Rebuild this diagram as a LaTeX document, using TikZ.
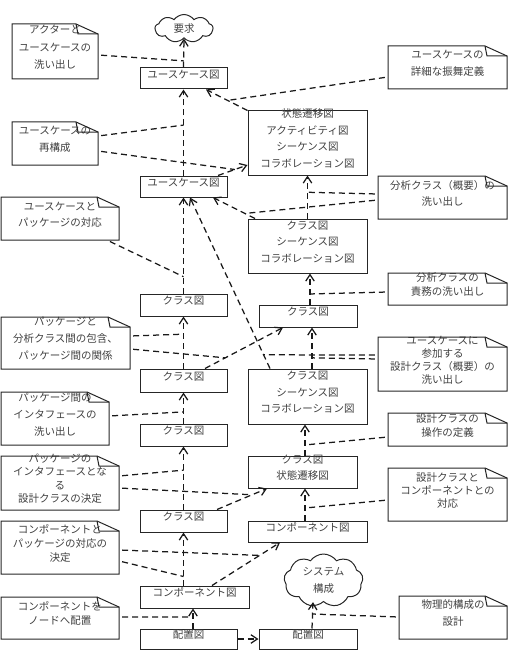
\documentclass[tikz,border=0pt]{standalone}
\usepackage{fontspec}
\setmainfont{Noto Sans CJK JP}
\usetikzlibrary{arrows.meta,shapes.symbols,fit,calc}
\newcommand{\jfs}[1]{\fontsize{10.5}{#1}\selectfont}
\newcommand\mknote[7]{%
  \node[ntext, font=\jfs{#7}, fit={(#2,#3) (#4,#5)}] (#1) {#6};
  \draw[noteline] (#2,#3) -- ({#4-22},#3) -- (#4,{#3+10}) -- (#4,#5) -- (#2,#5) -- cycle;
  \draw[noteline] ({#4-22},#3) -- ({#4-20},{#3+10}) -- (#4,{#3+10});
}
\newcommand\dep[3]{\draw[dep] (#2) coordinate (#1s) -- (#3) coordinate (#1t);}
\begin{document}
\begin{tikzpicture}[x=1pt,y=-1pt,
  box/.style={draw=black!85, line width=1pt, inner sep=0pt, align=center, text=black!75},
  ntext/.style={inner sep=0pt, align=center, text=black!75},
  noteline/.style={draw=black!85, line width=1pt, line join=miter},
  dep/.style={draw=black!90, line width=1.25pt, dash pattern=on 6pt off 4pt, -{Straight Barb[length=6.5pt,width=8.5pt]}},
  att/.style={draw=black!90, line width=1.25pt, dash pattern=on 6pt off 4pt, shorten <=3pt},
  cloudy/.style={cloud, cloud puffs=9, cloud puff arc=110, cloud ignores aspect, draw=black!85, line width=1pt, inner sep=0pt, align=center, text=black!75, font=\jfs{16.5}}
]
\useasboundingbox (0,0) rectangle (515,650);

% boxes
\node[box, font=\jfs{16.5}, fit={(140,68) (227,89)}] (uc1) {ユースケース図};
\node[box, font=\jfs{16.5}, fit={(140,176) (227,197)}] (uc2) {ユースケース図};
\node[box, font=\jfs{16.5}, fit={(248,111) (367,175)}] (sb) {状態遷移図\\アクティビティ図\\シーケンス図\\コラボレーション図};
\node[box, font=\jfs{16.5}, fit={(248,219) (367,273)}] (cb1) {クラス図\\シーケンス図\\コラボレーション図};
\node[box, font=\jfs{16.5}, fit={(259,305) (357,327)}] (clr1) {クラス図};
\node[box, font=\jfs{16.5}, fit={(140,294) (227,316)}] (cll1) {クラス図};
\node[box, font=\jfs{16.5}, fit={(140,369) (227,392)}] (cll2) {クラス図};
\node[box, font=\jfs{16.5}, fit={(248,369) (367,424)}] (cb2) {クラス図\\シーケンス図\\コラボレーション図};
\node[box, font=\jfs{16.5}, fit={(140,424) (227,446)}] (cll3) {クラス図};
\node[box, font=\jfs{16}, fit={(248,456) (357,488)}] (cb3) {クラス図\\状態遷移図};
\node[box, font=\jfs{16.5}, fit={(140,510) (227,532)}] (cll4) {クラス図};
\node[box, font=\jfs{16.5}, fit={(248,521) (367,542)}] (compr) {コンポーネント図};
\node[box, font=\jfs{16.5}, fit={(140,586) (249,608)}] (compl) {コンポーネント図};
\node[box, font=\jfs{16.5}, fit={(140,629) (237,649)}] (depl) {配置図};
\node[box, font=\jfs{16.5}, fit={(259,629) (357,649)}] (depr) {配置図};

% clouds
\node[cloudy, minimum width=58, minimum height=28] (req) at (184,28.5) {要求};
\node[cloudy, minimum width=79, minimum height=53] (sys) at (323.5,580.5) {システム\\構成};

% notes
\mknote{n1}{12}{24}{98}{79}{アクターと\\ユースケースの\\洗い出し}{17.5}
\mknote{n2}{388}{46}{507}{89}{ユースケースの\\詳細な振舞定義}{17}
\mknote{n3}{12}{122}{98}{165}{ユースケースの\\再構成}{17}
\mknote{n4}{378}{176}{507}{219}{分析クラス（概要）の\\洗い出し}{16}
\mknote{n5}{1}{197}{119}{240}{ユースケースと\\パッケージの対応}{16}
\mknote{n6}{388}{273}{507}{305}{分析クラスの\\責務の洗い出し}{14}
\mknote{n7}{1}{317}{130}{369}{パッケージと\\分析クラス間の包含、\\パッケージ間の関係}{17}
\mknote{n8}{378}{337}{507}{391}{ユースケースに\\参加する\\設計クラス（概要）の\\洗い出し}{13}
\mknote{n9}{1}{392}{109}{445}{パッケージ間の\\インタフェースの\\洗い出し}{17}
\mknote{n10}{388}{413}{507}{446}{設計クラスの\\操作の定義}{14}
\mknote{n11}{1}{456}{119}{510}{パッケージの\\インタフェースとな\\る\\設計クラスの決定}{13.5}
\mknote{n12}{388}{468}{507}{521}{設計クラスと\\コンポーネントとの\\対応}{13}
\mknote{n13}{1}{521}{119}{574}{コンポーネントと\\パッケージの対応の\\決定}{14}
\mknote{n14}{1}{597}{119}{639}{コンポーネントを\\ノードへ配置}{14}
\mknote{n15}{399}{596}{507}{639}{物理的構成の\\設計}{17}

% dependency arrows
\dep{a1}{uc1.north}{req.south}
\dep{a2}{uc2.north}{uc1.south}
\dep{a3}{sb.north west}{uc1.south -| 206,0}
\dep{a4}{uc2.north -| 218,0}{sb.west |- 0,165}
\dep{a5}{cb1.north}{sb.south}
\dep{a6}{cb1.north -| 255,0}{uc2.south -| 213,0}
\dep{a7}{cll1.north}{uc2.south}
\dep{a8}{cb2.north -| 270,0}{uc2.south -| 190,0}
\dep{a9}{clr1.north -| 310,0}{cb1.south -| 310,0}
\dep{a10}{cll2.north}{cll1.south}
\dep{a11}{cll2.north -| 205,0}{clr1.south -| 283,0}
\dep{a12}{cb2.north -| 312,0}{clr1.south -| 312,0}
\dep{a13}{cll3.north}{cll2.south}
\dep{a14}{cb3.north -| 305,0}{cb2.south -| 305,0}
\dep{a15}{cll4.north}{cll3.south}
\dep{a16}{cll4.north -| 217,0}{cb3.south -| 267,0}
\dep{a17}{compr.north -| 305,0}{cb3.south -| 305,0}
\dep{a18}{compl.north -| 183.5,0}{cll4.south}
\dep{a19}{compl.north -| 212,0}{compr.south -| 280,0}
\dep{a20}{depl.north -| 193,0}{compl.south -| 193,0}
\dep{a21}{depl.east}{depr.west}
\dep{a22}{depr.north -| 312,0}{sys.south -| 313,0}

% note attachments
\draw[att] (n1.east |- 0,55) -- ($(a1s)!0.23!(a1t)$);
\draw[att] (n2.west |- 0,77) -- ($(a3s)!0.48!(a3t)$);
\draw[att] (n3.east |- 0,136) -- ($(a2s)!0.586!(a2t)$);
\draw[att] (n3.east |- 0,151) -- ($(a4s)!0.57!(a4t)$);
\draw[att] (n4.west |- 0,194) -- ($(a5s)!0.61!(a5t)$);
\draw[att] (n4.west |- 0,200) -- ($(a6s)!0.24!(a6t)$);
\draw[att] ($(n5.south east)+(-12,0)$) -- ($(a7s)!0.175!(a7t)$);
\draw[att] (n6.west |- 0,292) -- ($(a9s)!0.34!(a9t)$);
\draw[att] (n7.east |- 0,336) -- ($(a10s)!0.66!(a10t)$);
\draw[att] (n7.east |- 0,349) -- ($(a11s)!0.26!(a11t)$);
\draw[att] (n8.west |- 0,355) -- ($(a8s)!0.08!(a8t)$);
\draw[att] (n8.west |- 0,359) -- ($(a12s)!0.26!(a12t)$);
\draw[att] (n9.east |- 0,416) -- ($(a13s)!0.375!(a13t)$);
\draw[att] (n10.west |- 0,437) -- ($(a14s)!0.34!(a14t)$);
\draw[att] (n11.east |- 0,476) -- ($(a15s)!0.625!(a15t)$);
\draw[att] (n11.east |- 0,488) -- ($(a16s)!0.7!(a16t)$);
\draw[att] (n12.west |- 0,500) -- ($(a17s)!0.39!(a17t)$);
\draw[att] (n13.east |- 0,550) -- ($(a19s)!0.7!(a19t)$);
\draw[att] (n13.east |- 0,561) -- ($(a18s)!0.17!(a18t)$);
\draw[att] (n14.east |- 0,617) -- ($(a20s)!0.57!(a20t)$);
\draw[att] (n15.west |- 0,617) -- ($(a22s)!0.55!(a22t)$);
\end{tikzpicture}
\end{document}
